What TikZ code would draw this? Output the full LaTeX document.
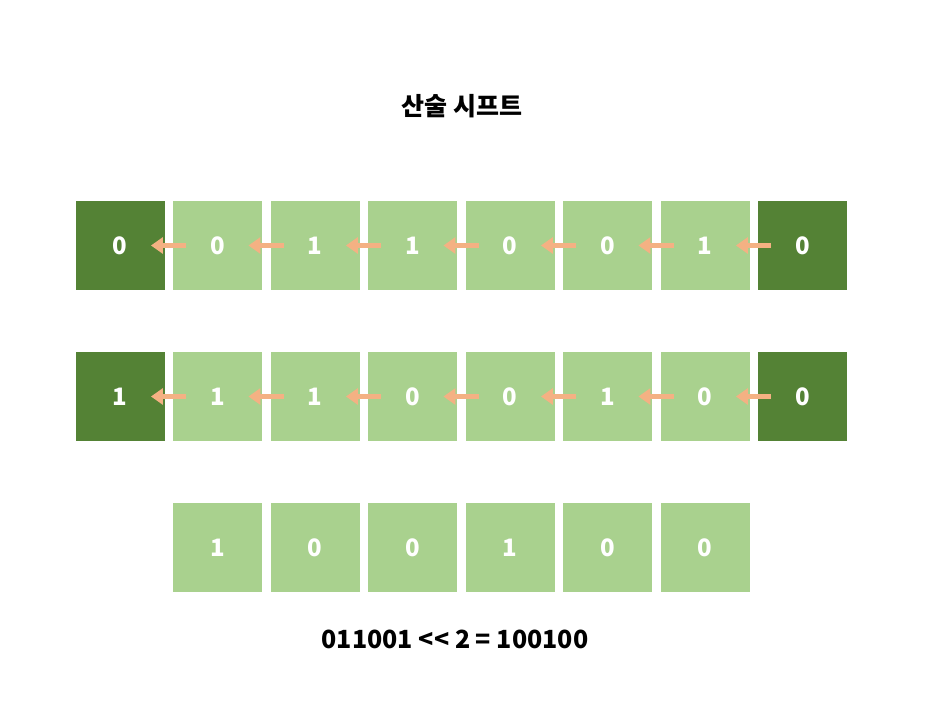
\documentclass[tikz,border=0pt]{standalone}
\usepackage{fontspec}
\setmainfont{Noto Sans CJK KR}
\usetikzlibrary{matrix,arrows.meta}
\definecolor{darkbit}{HTML}{548235}
\definecolor{lightbit}{HTML}{A9D18E}
\definecolor{shiftorange}{HTML}{F4B183}
\begin{document}
\begin{tikzpicture}[x=1pt,y=-1pt, edgebit/.style={fill=darkbit}]
   \newcommand{\shiftArrow}[2]{
        \draw[shiftorange, line width=5pt, -{Triangle[length=12pt,width=16pt]}] ([xshift=13pt]#1.west) -- ([xshift=-14pt]#2.east);
    }
  \useasboundingbox (0,0) rectangle (927,718);
  \node (title) at (462,106) {\fontsize{25}{30}\selectfont\bfseries 산술 시프트};
  \matrix (M) [
  matrix of nodes, column sep=8.5pt, row sep=62pt,
  nodes={anchor=center, minimum width=89pt, minimum height=89pt, inner sep=0pt,
    fill=lightbit, text=white, font=\fontsize{24}{28}\selectfont\bfseries}
] at (461.5,396.5)
  {
    |[edgebit]| 0 & 0 & 1 & 1 & 0 & 0 & 1 & |[edgebit]| 0 \\
    |[edgebit]| 1 & 1 & 1 & 0 & 0 & 1 & 0 & |[edgebit]| 0 \\
     & 1 & 0 & 0 & 1 & 0 & 0 & \\
  };

  \shiftArrow{M-1-2}{M-1-1}
  \shiftArrow{M-1-3}{M-1-2}
  \shiftArrow{M-1-4}{M-1-3}
  \shiftArrow{M-1-5}{M-1-4}
  \shiftArrow{M-1-6}{M-1-5}
  \shiftArrow{M-1-7}{M-1-6}
  \shiftArrow{M-1-8}{M-1-7}
  \shiftArrow{M-2-2}{M-2-1}
  \shiftArrow{M-2-3}{M-2-2}
  \shiftArrow{M-2-4}{M-2-3}
  \shiftArrow{M-2-5}{M-2-4}
  \shiftArrow{M-2-6}{M-2-5}
  \shiftArrow{M-2-7}{M-2-6}
  \shiftArrow{M-2-8}{M-2-7}

  \node (result) at (455,639) {\fontsize{25}{30}\selectfont\bfseries 011001 {<}{<} 2 = 100100};
\end{tikzpicture}
\end{document}
